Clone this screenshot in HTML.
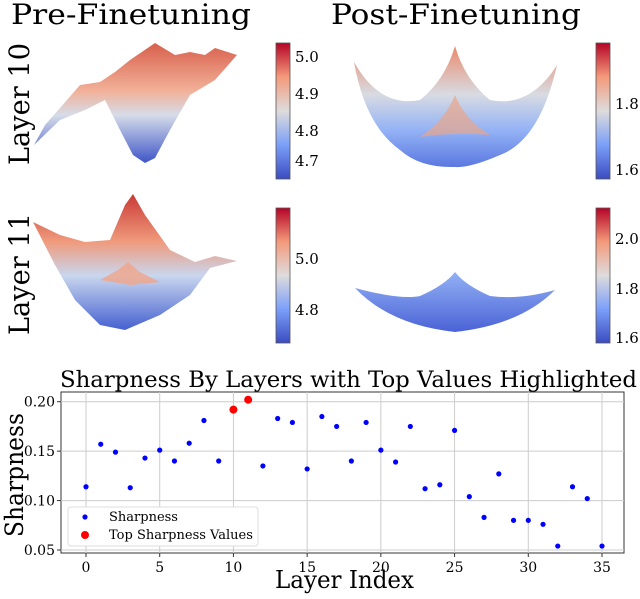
<!DOCTYPE html>
<html><head><meta charset="utf-8"><style>
body{margin:0;background:#fff;}
svg{display:block;}
svg text{font-family:"DejaVu Serif","Liberation Serif",serif;}
</style></head><body>
<svg id="fig" width="640" height="599" viewBox="0 0 640 599">
<defs>
<linearGradient id="cw" x1="0" y1="1" x2="0" y2="0">
<stop offset="0" stop-color="#3b4cc0"/><stop offset="0.25" stop-color="#7b9ff9"/>
<stop offset="0.5" stop-color="#dddcdc"/><stop offset="0.75" stop-color="#f49a7b"/>
<stop offset="1" stop-color="#b40426"/></linearGradient>
<linearGradient id="g1" x1="0" y1="0" x2="0" y2="1">
<stop offset="0" stop-color="#d8604c"/><stop offset="0.4" stop-color="#f2b199"/>
<stop offset="0.6" stop-color="#d6dce9"/><stop offset="1" stop-color="#3e55c8"/></linearGradient>
<linearGradient id="g2" x1="0" y1="0" x2="0" y2="1">
<stop offset="0" stop-color="#c93a36"/><stop offset="0.35" stop-color="#f09a7c"/>
<stop offset="0.6" stop-color="#c9d6ee"/><stop offset="1" stop-color="#4460d0"/></linearGradient>
<linearGradient id="g3" x1="0" y1="0" x2="0" y2="1">
<stop offset="0" stop-color="#ea8a6c"/><stop offset="0.4" stop-color="#d8dbe2"/>
<stop offset="0.7" stop-color="#93b2f5"/><stop offset="1" stop-color="#5a78e0"/></linearGradient>
<linearGradient id="g4" x1="0" y1="0" x2="0" y2="1">
<stop offset="0" stop-color="#93b2f5"/><stop offset="1" stop-color="#4a62d6"/></linearGradient>
</defs>
<text x="11" y="24" font-size="28" textLength="240" lengthAdjust="spacingAndGlyphs">Pre-Finetuning</text>
<text x="331" y="24" font-size="28" textLength="250" lengthAdjust="spacingAndGlyphs">Post-Finetuning</text>
<text transform="translate(29,165) rotate(-90)" font-size="28" textLength="122" lengthAdjust="spacingAndGlyphs">Layer 10</text>
<text transform="translate(29,335) rotate(-90)" font-size="28" textLength="122" lengthAdjust="spacingAndGlyphs">Layer 11</text>

<g>
<polygon fill="url(#g1)" points="34,145 45,125 60,108 80,85 100,82 115,72 130,60 155,43 175,55 190,52 205,55 215,48 237,55 215,80 190,95 170,130 155,158 145,163 133,155 120,130 105,100 85,110 60,120"/>
</g>
<g>
<polygon fill="url(#g2)" points="33,222 60,235 85,242 110,240 125,205 133,194 145,215 170,250 195,262 215,256 237,261 210,268 190,295 160,315 125,330 100,325 75,300 55,265"/>
<polygon fill="#f0a58a" opacity="0.8" points="100,280 118,270 128,262 140,272 160,282 130,285"/>
</g>
<g>
<path fill="url(#g3)" d="M354,62 Q380,108 420,100 Q445,80 455,46 Q465,80 490,100 Q530,108 557,65 Q540,140 500,155 Q470,168 455,167 Q420,168 400,150 Q365,125 354,62Z"/>
<path fill="#e9a58a" opacity="0.7" d="M455,95 Q445,120 420,137 Q455,132 490,135 Q465,120 455,95Z"/>
</g>
<g>
<path fill="url(#g4)" d="M355,288 Q400,300 420,296 Q445,285 455,272 Q465,285 490,296 Q520,300 555,290 Q520,325 455,332 Q390,325 355,288Z"/>
</g>

<g>
<rect x="276" y="43" width="14" height="136" fill="url(#cw)" stroke="#555" stroke-width="0.8"/>
<g font-size="15"><text x="295" y="62">5.0</text><text x="295" y="99">4.9</text><text x="295" y="136">4.8</text><text x="295" y="166">4.7</text></g></g>
<g>
<rect x="276" y="208" width="14" height="135" fill="url(#cw)" stroke="#555" stroke-width="0.8"/>
<g font-size="15"><text x="295" y="264">5.0</text><text x="295" y="315">4.8</text></g></g>
<g>
<rect x="596" y="43" width="14" height="136" fill="url(#cw)" stroke="#555" stroke-width="0.8"/>
<g font-size="15"><text x="615" y="109">1.8</text><text x="615" y="175">1.6</text></g></g>
<g>
<rect x="596" y="208" width="14" height="135" fill="url(#cw)" stroke="#555" stroke-width="0.8"/>
<g font-size="15"><text x="615" y="244">2.0</text><text x="615" y="294">1.8</text><text x="615" y="343">1.6</text></g></g>

<text x="60" y="387" font-size="22" textLength="577" lengthAdjust="spacingAndGlyphs">Sharpness By Layers with Top Values Highlighted</text>
<text transform="translate(23,537) rotate(-90)" font-size="25" textLength="124" lengthAdjust="spacingAndGlyphs">Sharpness</text>
<text x="275" y="588" font-size="24" textLength="139" lengthAdjust="spacingAndGlyphs">Layer Index</text>
<g id="plot"></g>
</svg>
<script>
const layers=[0,1,2,3,4,5,6,7,8,9,10,11,12,13,14,15,16,17,18,19,20,21,22,23,24,25,26,27,28,29,30,31,32,33,34,35];
const sharpness=[0.114,0.157,0.149,0.113,0.143,0.151,0.140,0.158,0.181,0.140,0.192,0.202,0.135,0.183,0.179,0.132,0.185,0.175,0.140,0.179,0.151,0.139,0.175,0.112,0.116,0.171,0.104,0.083,0.127,0.080,0.080,0.076,0.054,0.114,0.102,0.054];
const topLayers=[10,11];
const xTicks=[0,5,10,15,20,25,30,35];
const yTicks=[0.05,0.10,0.15,0.20];
const yTickLabels=["0.05","0.10","0.15","0.20"];
const NS="http://www.w3.org/2000/svg";
const L=61,R=624,T=392,B=553;
const xs=v=>86+(v-0)*(602-86)/35;
const ys=v=>550-(v-0.05)*(550-401.7)/0.15;
const g=document.getElementById('plot');
function mk(t,a,p){const e=document.createElementNS(NS,t);for(const k in a)e.setAttribute(k,a[k]);(p||g).appendChild(e);return e;}
const bg=mk('rect',{x:L,y:T,width:R-L,height:B-T,fill:'#fff',stroke:'#333','stroke-width':1});


xTicks.forEach(v=>{
 const l=mk('line',{x1:xs(v),x2:xs(v),y1:T,y2:B,stroke:'#ccc','stroke-width':1});
 
 
 mk('line',{x1:xs(v),x2:xs(v),y1:B,y2:B+4,stroke:'#333'});
 const t=mk('text',{x:xs(v),y:B+19,'font-size':14,'text-anchor':'middle'});t.textContent=v;
 
 
});
yTicks.forEach((v,i)=>{
 const l=mk('line',{x1:L,x2:R,y1:ys(v),y2:ys(v),stroke:'#ccc','stroke-width':1});
 
 
 mk('line',{x1:L-4,x2:L,y1:ys(v),y2:ys(v),stroke:'#333'});
 const t=mk('text',{x:L-6,y:ys(v)+5,'font-size':14,'text-anchor':'end'});t.textContent=yTickLabels[i];
 
 
});
layers.forEach((x,i)=>{
 if(topLayers.includes(x))return;
 const c=mk('circle',{cx:xs(x),cy:ys(sharpness[i]),r:2.6,fill:'#0000ff'});
 
 
});
topLayers.forEach(x=>{
 const i=layers.indexOf(x);
 const c=mk('circle',{cx:xs(x),cy:ys(sharpness[i]),r:4,fill:'#ff0000'});
 
 
});
const lg=mk('g',{});


mk('rect',{x:68,y:507,width:190,height:39,fill:'#fff',stroke:'#ddd',rx:3},lg);
mk('circle',{cx:85,cy:517,r:2.6,fill:'#0000ff'},lg);
mk('circle',{cx:85,cy:535,r:4,fill:'#ff0000'},lg);
const t1=mk('text',{x:109,y:521,'font-size':13},lg);t1.textContent='Sharpness';
const t2=mk('text',{x:109,y:539,'font-size':13},lg);t2.textContent='Top Sharpness Values';
</script>
</body></html>
